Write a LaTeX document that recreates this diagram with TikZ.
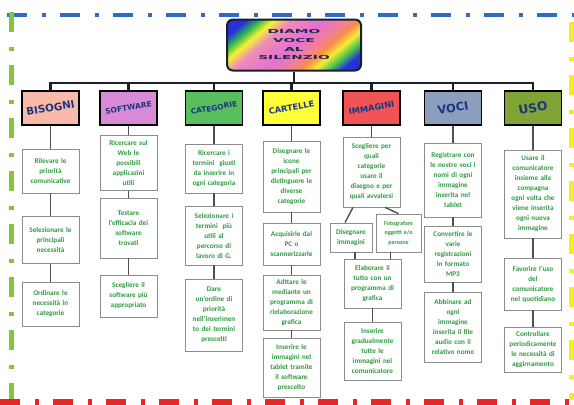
\documentclass[tikz,border=0pt]{standalone}
\usepackage{fontspec}
\usepackage{graphicx}
\setmainfont{Carlito}
\newfontfamily\hdrfont{DejaVu Sans}
\usetikzlibrary{calc}
\definecolor{cBisogni}{HTML}{F8B9A8}
\definecolor{cSoftware}{HTML}{D98AD6}
\definecolor{cCategorie}{HTML}{58BE5E}
\definecolor{cCartelle}{HTML}{FFFF3A}
\definecolor{cImmagini}{HTML}{F25456}
\definecolor{cVoci}{HTML}{8B9EBE}
\definecolor{cUso}{HTML}{7FA334}
\definecolor{cWord}{HTML}{1B3680}
\definecolor{cTxt}{HTML}{2E9A40}
\definecolor{cFrame}{HTML}{8C8C8C}
\definecolor{cLink}{HTML}{505050}
\definecolor{cBar}{HTML}{1A1F2B}
\definecolor{cTitle}{HTML}{23264A}
\definecolor{cEdgeB}{HTML}{2F6BC6}
\definecolor{cEdgeG}{HTML}{86C440}
\definecolor{cEdgeY}{HTML}{F4EE1E}
\definecolor{cEdgeR}{HTML}{E8262A}
\pgfdeclarehorizontalshading{rainbow}{100bp}{
  rgb(0bp)=(0.12,0.12,0.80); rgb(22bp)=(0.15,0.2,0.85);
  rgb(27bp)=(0.2,0.72,0.3); rgb(32bp)=(0.96,0.95,0.2);
  rgb(38bp)=(0.94,0.55,0.72); rgb(50bp)=(0.88,0.45,0.82);
  rgb(58bp)=(0.95,0.5,0.6); rgb(63bp)=(0.97,0.55,0.3);
  rgb(68bp)=(0.97,0.92,0.2); rgb(73bp)=(0.3,0.78,0.3);
  rgb(78bp)=(0.15,0.2,0.85); rgb(100bp)=(0.12,0.12,0.80)}
\newcommand{\hdrword}[2]{\rotatebox{10}{\resizebox{#1}{!}{\hdrfont\bfseries #2}}}
\tikzset{
  titlebox/.style={
    draw=cBar, line width=2pt, rounded corners=6pt,
    shading=rainbow, shading angle=-50,
    minimum width=134pt, minimum height=51pt, inner sep=0pt,
    text=cTitle, font=\hdrfont\bfseries\fontsize{5.5}{8.6}\selectfont,
  },
  hdrbox/.style={
    draw=black, line width=1.8pt,
    minimum width=57pt, minimum height=34pt, inner sep=0pt,
    text=cWord,
  },
  taskbox/.style={
    draw=cFrame, line width=0.8pt, fill=white,
    text width=55pt, align=center, inner sep=1pt,
    text=cTxt, font=\bfseries\fontsize{7.2}{10}\selectfont,
  },
  bar/.style={draw=cBar, line width=2.2pt},
  link/.style={draw=cLink, line width=1.4pt},
  edgeline/.style={line width=#1, dash pattern=on 20pt off 15pt on 4pt off 14pt},
}

\begin{document}
\begin{tikzpicture}[x=1pt,y=-1pt]
\useasboundingbox (0,0) rectangle (574,405);

% ═══════════════════════════════════════════════════════════════
%  FRAME  (four dash-dot sides)
% ═══════════════════════════════════════════════════════════════
\draw[edgeline=4pt, cEdgeB] (7,14.5) -- (574,14.5);
\draw[edgeline=5pt, cEdgeG] (11.5,12) -- (11.5,405);
\draw[edgeline=6pt, cEdgeY] (572,22) -- (572,400);
\draw[edgeline=6pt, cEdgeR] (0,402) -- (574,402);

% ═══════════════════════════════════════════════════════════════
%  TITLE
% ═══════════════════════════════════════════════════════════════
\node[titlebox] (title) at (294,45)
  {\scalebox{2.5}[1]{\begin{tabular}{@{}c@{}}DIAMO\\VOCE\\AL\\SILENZIO\end{tabular}}};

% ═══════════════════════════════════════════════════════════════
%  HEADERS  (y = 108)
% ═══════════════════════════════════════════════════════════════
\node[hdrbox, fill=cBisogni]   (bisogni)   at (50.5,108)  {\hdrword{49pt}{BISOGNI}};
\node[hdrbox, fill=cSoftware]  (software)  at (128.5,108) {\hdrword{47pt}{SOFTWARE}};
\node[hdrbox, fill=cCategorie] (categorie) at (214,108)   {\hdrword{47pt}{CATEGORIE}};
\node[hdrbox, fill=cCartelle]  (cartelle)  at (291.5,108) {\hdrword{46pt}{CARTELLE}};
\node[hdrbox, fill=cImmagini]  (immagini)  at (371.5,108) {\hdrword{46pt}{IMMAGINI}};
\node[hdrbox, fill=cVoci]      (voci)      at (453,108)   {\hdrword{31pt}{VOCI}};
\node[hdrbox, fill=cUso]       (uso)       at (533,108)   {\hdrword{29pt}{USO}};

% ── bus from title to headers ──
\coordinate (busY) at (0,83);
\draw[bar] (title.south) -- (title.south |- busY);
\draw[bar] (bisogni.north) |- (uso.north |- busY) -- (uso.north);
\foreach \h in {software,categorie,cartelle,immagini,voci}
  \draw[bar] (\h.north) -- (\h.north |- busY);

% ═══════════════════════════════════════════════════════════════
%  BISOGNI
% ═══════════════════════════════════════════════════════════════
\node[taskbox, minimum height=44pt] (bis1) at (50.5,171)
  {Rilevare le\\priorità\\comunicative};
\node[taskbox, minimum height=47pt] (bis2) at (50.5,240)
  {Selezionare le\\principali\\necessità};
\node[taskbox, minimum height=44pt] (bis3) at (50.5,304)
  {Ordinare le\\necessità in\\categorie};

% ═══════════════════════════════════════════════════════════════
%  SOFTWARE
% ═══════════════════════════════════════════════════════════════
\node[taskbox, minimum height=55pt] (sw1) at (128.5,163)
  {Ricercare sul\\Web le\\possibili\\applicazini\\utili};
\node[taskbox, minimum height=60pt] (sw2) at (128.5,228)
  {Testare\\l’efficacia dei\\software\\trovati};
\node[taskbox, minimum height=42pt] (sw3) at (128.5,296)
  {Scegliere il\\software più\\appropriato};

% ═══════════════════════════════════════════════════════════════
%  CATEGORIE
% ═══════════════════════════════════════════════════════════════
\node[taskbox, minimum height=49pt] (cat1) at (214,168.5)
  {Ricercare i\\termini~ giusti\\da inserire in\\ogni categoria};
\node[taskbox, minimum height=59pt] (cat2) at (214,235.5)
  {Selezionare i\\termini~ più\\utili al\\percorso di\\lavoro di G.};
\node[taskbox, minimum height=72pt] (cat3) at (214,315)
  {Dare\\un’ordine di\\priorità\\nell’inserimen\\to dei termini\\prescelti};

% ═══════════════════════════════════════════════════════════════
%  CARTELLE
% ═══════════════════════════════════════════════════════════════
\node[taskbox, minimum height=71pt] (car1) at (291.5,176.5)
  {Disegnare le\\icone\\principali per\\distinguere le\\diverse\\categorie};
\node[taskbox, minimum height=42pt] (car2) at (291.5,244)
  {Acquisirle dal\\PC o\\scannerizzarle};
\node[taskbox, minimum height=55pt] (car3) at (291.5,302.5)
  {Adttare le\\mediante un\\programma di\\rielaborazione\\grafica};
\node[taskbox, minimum height=59pt] (car4) at (291.5,367.5)
  {Inserire le\\immagini nel\\tablet tramite\\il software\\prescelto};

% ═══════════════════════════════════════════════════════════════
%  IMMAGINI
% ═══════════════════════════════════════════════════════════════
\node[taskbox, minimum height=70pt] (imm1) at (371.5,172)
  {Scegliere per\\quali\\categorie\\usare il\\disegno e per\\quali avvalersi};
\node[taskbox, text width=40pt, minimum height=29pt] (disegna) at (351,237.5)
  {Disegnare\\immagini};
\node[taskbox, text width=43pt, minimum height=38pt,
      font=\bfseries\fontsize{6}{9.5}\selectfont] (fotografa) at (398.5,233)
  {Fotografare\\oggetti e/o\\persone};
\node[taskbox, minimum height=49pt] (elabora) at (372.5,283.5)
  {Elaborare il\\tutto con un\\programma di\\grafica};
\node[taskbox, minimum height=58pt] (inserisci) at (372.5,351)
  {Inserire\\gradualmente\\tutte le\\immagini nel\\comunicatore};

% ═══════════════════════════════════════════════════════════════
%  VOCI
% ═══════════════════════════════════════════════════════════════
\node[taskbox, minimum height=74pt] (voc1) at (453,180)
  {Registrare con\\le nostre voci i\\nomi di ogni\\immagine\\inserita nel\\tablet};
\node[taskbox, minimum height=56pt] (voc2) at (453,254)
  {Convertire le\\varie\\registrazioni\\in formato\\MP3};
\node[taskbox, minimum height=70pt] (voc3) at (453,327)
  {Abbinare ad\\ogni\\immagine\\inserita il file\\audio con il\\relativo nome};

% ═══════════════════════════════════════════════════════════════
%  USO
% ═══════════════════════════════════════════════════════════════
\node[taskbox, minimum height=88pt] (uso1) at (533,194)
  {Usare il\\comunicatore\\insieme alla\\compagna\\ogni volta che\\viene inserita\\ogni nuova\\immagine};
\node[taskbox, minimum height=52pt] (uso2) at (533,284)
  {Favorire l’uso\\del\\comunicatore\\nel quotidiano};
\node[taskbox, minimum height=45pt] (uso3) at (533,349.5)
  {Controllare\\periodicamente\\le necessità di\\aggirnamento};

% ── links inside columns ──
\foreach \a/\b in {bisogni/bis1,bis1/bis2,bis2/bis3,
                   software/sw1,sw1/sw2,sw2/sw3,
                   categorie/cat1,cat1/cat2,cat2/cat3,
                   cartelle/car1,car1/car2,car2/car3,car3/car4,
                   immagini/imm1,elabora/inserisci,
                   voci/voc1,voc1/voc2,voc2/voc3,
                   uso/uso1,uso1/uso2,uso2/uso3}
  \draw[link] (\a.south) -- (\b.north);

% ── branching under IMMAGINI ──
\draw[link] ($(imm1.south)+(-18.5,0)$) -- ($(disegna.north)+(-6,0)$);
\draw[link] ($(imm1.south)+(13.5,0)$) -- (fotografa.north);
\draw[link] ([xshift=4pt]disegna.south) -- ([xshift=4pt]disegna.south |- elabora.north);
\draw[link] ([xshift=-8pt]fotografa.south) -- ([xshift=-8pt]fotografa.south |- elabora.north);

\end{tikzpicture}
\end{document}
